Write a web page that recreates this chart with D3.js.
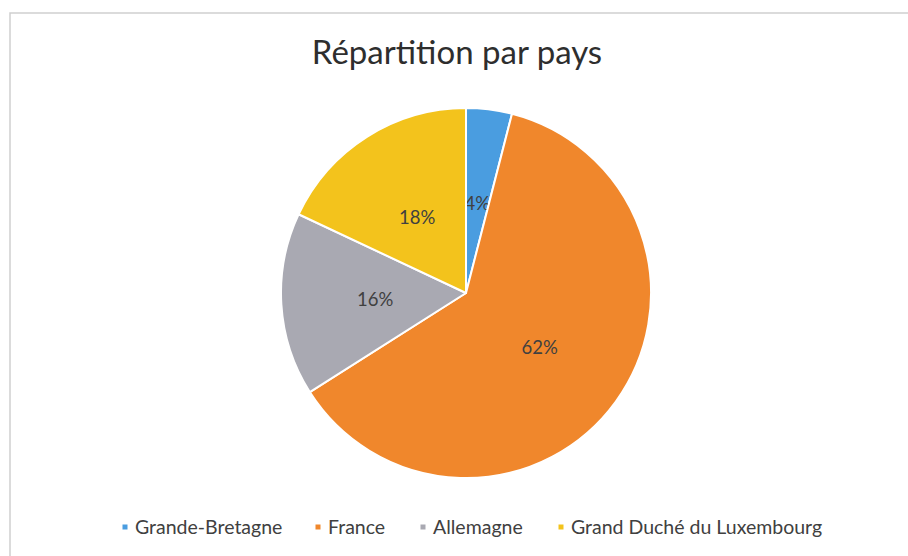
<!DOCTYPE html>
<html>
<head>
<meta charset="utf-8">
<script src="https://cdn.jsdelivr.net/npm/d3@7"></script>
<style>
  body { margin: 0; background: #fff; }
  svg { display: block; }
</style>
</head>
<body>
<svg id="chart" width="908" height="556"></svg>
<script>
var countries = ["Grande-Bretagne", "France", "Allemagne", "Grand Duché du Luxembourg"];
var shares = [4, 62, 16, 18];
var sliceColors = ["#4a9de0", "#f0872c", "#a9a9b2", "#f3c31c"];
var chartTitle = "Répartition par pays";

var props = {
    width: 908,
    height: 556,
    cx: 466,
    cy: 293,
    radius: 185,
    labelRadius: 91,
    textColor: "#404040",
    font: "Lato, 'Open Sans', sans-serif"
};

var svg = d3.select("#chart");

// frame of the chart area (scan shows only top and left edges)
svg.append("path")
    .attr("d", `M 10 ${props.height} L 10 13 L ${props.width} 13`)
    .attr("fill", "none")
    .attr("stroke", "#cfcfcf")
    .attr("stroke-width", 1.5);

svg.append("text")
    .attr("x", 457)
    .attr("y", 64)
    .attr("text-anchor", "middle")
    .attr("font-family", props.font)
    .attr("font-size", 33)
    .attr("fill", "#2e2e2e")
    .text(chartTitle);

var data = countries.map((c, i) => ({ name: c, value: shares[i], color: sliceColors[i] }));

var pie = d3.pie()
    .value(d => d.value)
    .sort(null);

var arc = d3.arc()
    .innerRadius(0)
    .outerRadius(props.radius);

var labelArc = d3.arc()
    .innerRadius(props.labelRadius)
    .outerRadius(props.labelRadius);

var g = svg.append("g")
    .attr("transform", `translate(${props.cx},${props.cy})`);

var slices = g.selectAll(".slice")
    .data(pie(data))
    .enter()
    .append("g")
    .attr("class", "slice");

slices.append("path")
    .attr("d", arc)
    .attr("fill", d => d.data.color)
    .attr("stroke", "#fff")
    .attr("stroke-width", 2)
    .attr("stroke-linejoin", "round");

slices.append("text")
    .attr("transform", d => {
        var c = labelArc.centroid(d);
        return `translate(${c[0]},${c[1] + 3})`;
    })
    .attr("text-anchor", "middle")
    .attr("dominant-baseline", "middle")
    .attr("font-family", props.font)
    .attr("font-size", 18.5)
    .attr("fill", props.textColor)
    .text(d => d.data.value + "%");

// legend
var legendX = [125, 318, 423, 561];
var legend = svg.append("g")
    .attr("font-family", props.font)
    .attr("font-size", 19.5)
    .attr("fill", props.textColor);

var items = legend.selectAll(".item")
    .data(data)
    .enter()
    .append("g")
    .attr("class", "item")
    .attr("transform", (d, i) => `translate(${legendX[i]},527)`);

items.append("rect")
    .attr("x", -2.5)
    .attr("y", -2.5)
    .attr("width", 5)
    .attr("height", 5)
    .attr("fill", d => d.color);

items.append("text")
    .attr("x", 10)
    .attr("y", 6.5)
    .text(d => d.name);
</script>
</body>
</html>
